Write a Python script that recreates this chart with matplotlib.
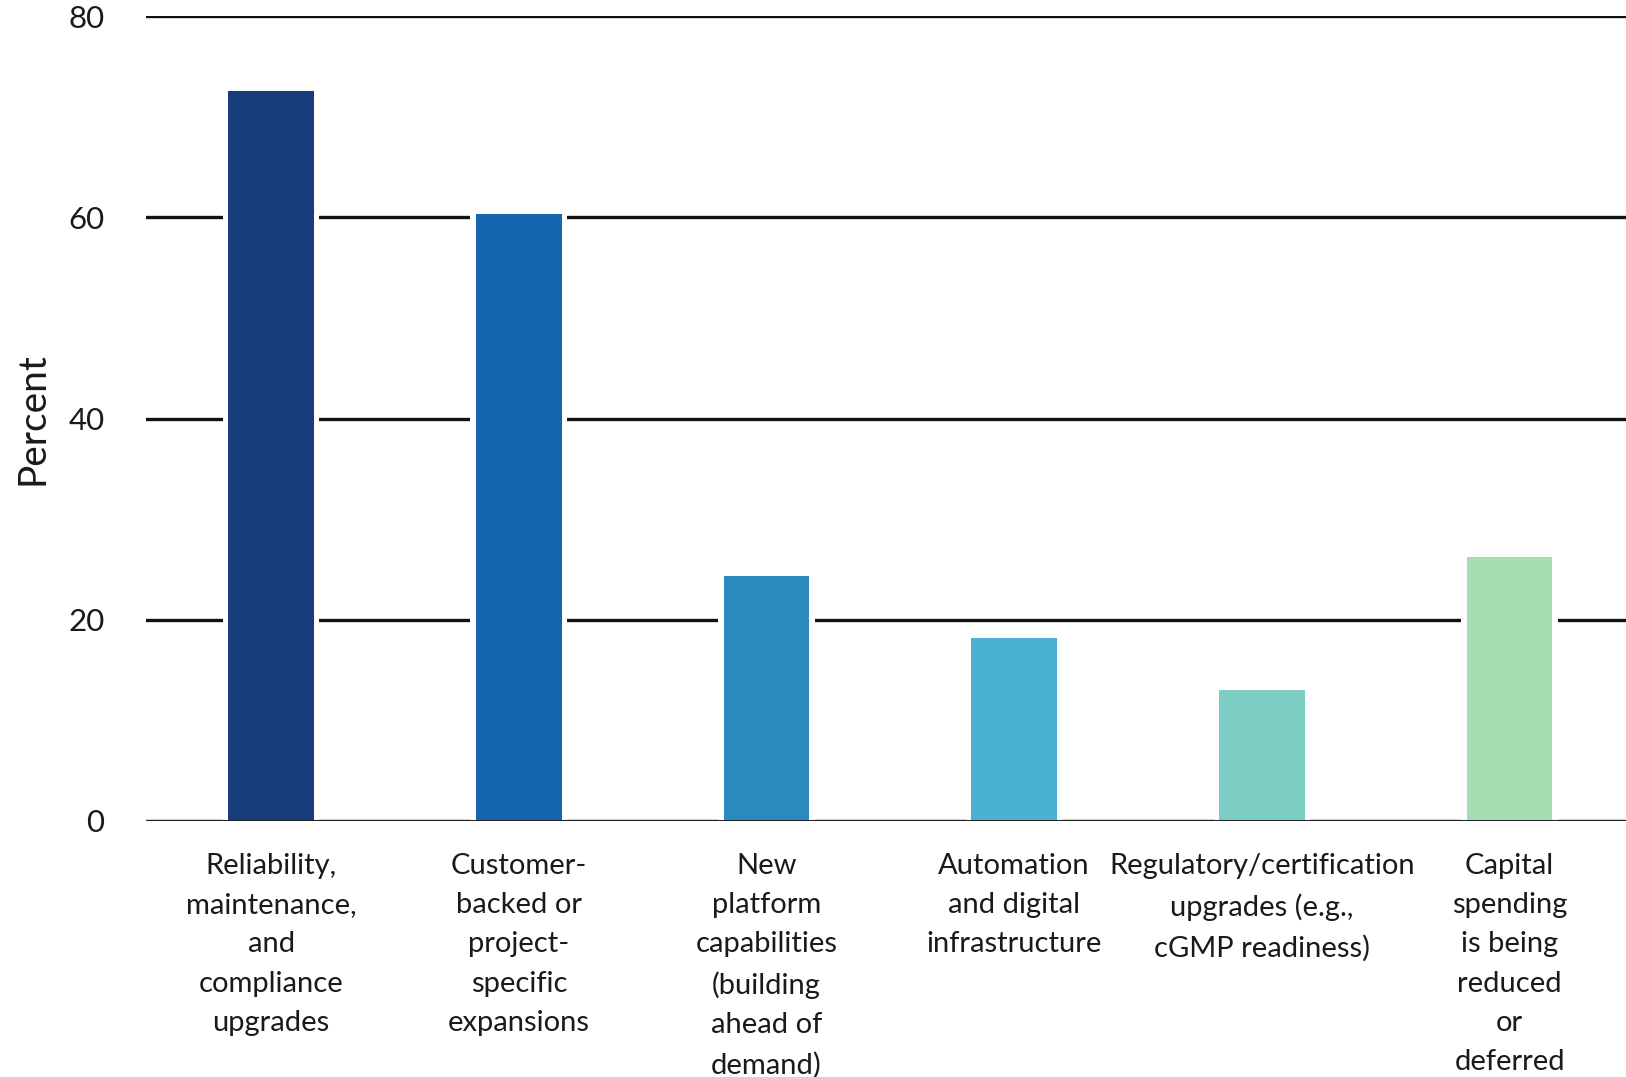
import matplotlib
matplotlib.use("Agg")
import matplotlib.pyplot as plt

# data
categories = [
    "Reliability,\nmaintenance,\nand\ncompliance\nupgrades",
    "Customer-\nbacked or\nproject-\nspecific\nexpansions",
    "New\nplatform\ncapabilities\n(building\nahead of\ndemand)",
    "Automation\nand digital\ninfrastructure",
    "Regulatory/certification\nupgrades (e.g.,\ncGMP readiness)",
    "Capital\nspending\nis being\nreduced\nor\ndeferred",
]
percent = [72.6, 60.3, 24.4, 18.2, 13.0, 26.2]
bar_colors = ["#183B7B", "#1565AE", "#2C8BBE", "#4BB1D2", "#7CCDC4", "#A7DDB2"]
y_ticks = [0, 20, 40, 60, 80]

plt.rcParams["font.family"] = ["Lato", "DejaVu Sans"]

fig = plt.figure(figsize=(16.26, 10.77), dpi=100)
ax = fig.add_axes([0.0898, 0.2377, 0.9102, 0.7473])

x = list(range(len(categories)))

# gridlines at the bottom, white backing bars cut gaps, then real bars
for t in y_ticks:
    ax.axhline(t, color="#111111", lw=2.4, zorder=1)
ax.bar(x, percent, width=0.39, color="white", zorder=2)
ax.bar(x, percent, width=0.345, color=bar_colors, zorder=3)
ax.axhline(0, color="#222222", lw=2.2, zorder=4)

ax.set_xlim(-0.505, 5.47)
ax.set_ylim(0, 80)
ax.set_yticks(y_ticks)
ax.set_xticks(x)
ax.set_xticklabels(categories, fontsize=21, color="#1a1a1a", linespacing=1.63, va="top")
ax.tick_params(axis="y", length=0, pad=30, labelsize=22.5, labelcolor="#1a1a1a")
ax.tick_params(axis="x", length=0, pad=23)
ax.set_ylabel("Percent", fontsize=28, color="#1a1a1a", labelpad=13)
for s in ax.spines.values():
    s.set_visible(False)

fig.savefig("out.png", dpi=100, facecolor="white")
